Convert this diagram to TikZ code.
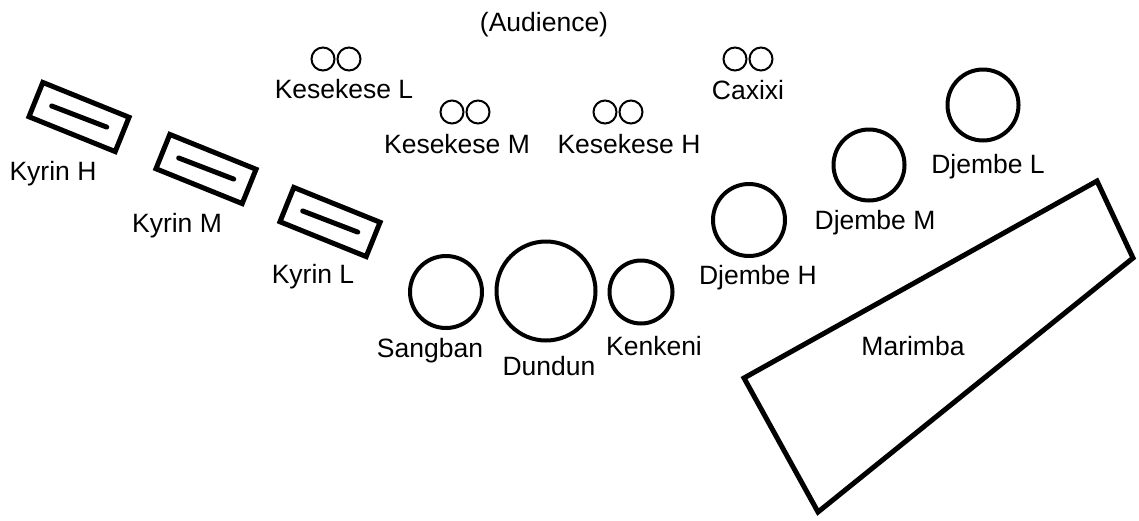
\documentclass[tikz,border=0pt]{standalone}
\usepackage{fontspec}
\setmainfont{Liberation Sans}
\usetikzlibrary{calc}
\begin{document}
\begin{tikzpicture}[x=1pt,y=-1pt,
  lbl/.style={font=\fontsize{26.5}{30}\selectfont, anchor=base, inner sep=0pt},
  drum/.style={circle, draw, line width=4pt, inner sep=0pt},
  shaker/.style={circle, draw, line width=2pt, minimum size=23pt, inner sep=0pt},
  kyrin/.style={rectangle, draw, line width=5pt, minimum width=93pt,
                minimum height=37pt, rotate=-22, inner sep=0pt},
  keybar/.style={line width=5pt, line cap=round},
  frame/.style={line width=5pt, line join=miter}]
\useasboundingbox (0,0) rectangle (1139,520);

% audience side
\node[lbl] (audience) at (544,31) {(Audience)};

% shakers
\node[shaker] (kl1) at (323,59) {};
\node[shaker] (kl2) at (349,59) {};
\node[lbl] (kltext) at (344,98) {Kesekese L};
\node[shaker] (km1) at (452,112) {};
\node[shaker] (km2) at (478,112) {};
\node[lbl] (kmtext) at (457,153) {Kesekese M};
\node[shaker] (kh1) at (605,112) {};
\node[shaker] (kh2) at (631,112) {};
\node[lbl] (khtext) at (629,153) {Kesekese H};
\node[shaker] (cx1) at (735,59) {};
\node[shaker] (cx2) at (761,59) {};
\node[lbl] (cxtext) at (748,99) {Caxixi};

% kyrins with their key bars
\foreach \n/\x/\y in {H/79/117, M/206/169, L/330/222} {
  \node[kyrin] (kyrin\n) at (\x,\y) {};
  \draw[keybar] ($(kyrin\n.center)+(158:29.5pt)$) -- ($(kyrin\n.center)+(-20:29.5pt)$);
}
\node[lbl] (khlabel) at (53,180) {Kyrin H};
\node[lbl] (kmlabel) at (177,232) {Kyrin M};
\node[lbl] (kllabel) at (313,283) {Kyrin L};

% dunun set
\node[drum, minimum size=72pt] (sangban) at (446,292) {};
\node[drum, minimum size=99pt] (dundun) at (546,291) {};
\node[drum, minimum size=63pt] (kenkeni) at (641,292) {};
\node[lbl] (sblabel) at (430,357) {Sangban};
\node[lbl] (ddlabel) at (549,375) {Dundun};
\node[lbl] (kklabel) at (654,355) {Kenkeni};

% djembes
\node[drum, minimum size=72pt] (djh) at (749,220) {};
\node[drum, minimum size=71pt] (djm) at (869,165) {};
\node[drum, minimum size=71pt] (djl) at (983,105) {};
\node[lbl] (djhlabel) at (758,284) {Djembe H};
\node[lbl] (djmlabel) at (875,229) {Djembe M};
\node[lbl] (djllabel) at (988,173) {Djembe L};

% marimba
\coordinate (m1) at (1097,181);
\coordinate (m2) at (1133,258);
\coordinate (m3) at (818,512);
\coordinate (m4) at (744,378);
\draw[frame] (m1) -- (m2) -- (m3) -- (m4) -- cycle;
\node[lbl] (marimba) at (913,355) {Marimba};
\end{tikzpicture}
\end{document}
